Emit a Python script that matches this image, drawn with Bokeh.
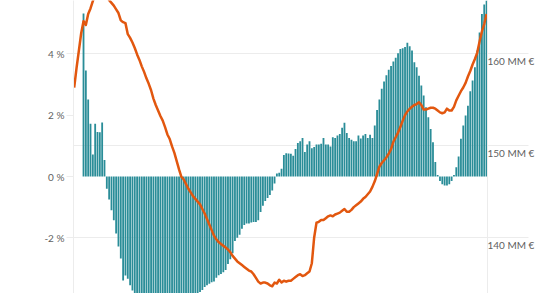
from bokeh.plotting import figure
from bokeh.models import Range1d, LinearAxis, FixedTicker, Grid, ColumnDataSource
from bokeh.embed import file_html
from bokeh.resources import INLINE

# ---- data ----
# yearly-change bars (%), one per period, index 0..173
bar_values = [
    5.32, 3.46, 2.51, 1.72, 0.72, 1.72, 1.45, 1.44, 1.76, 0.54,
    -0.40, -0.75, -1.10, -1.43, -1.86, -2.28, -2.67, -3.39, -3.23, -3.33,
    -3.55, -3.72, -3.90, -3.95, -4.00, -4.05, -4.10, -4.20, -4.25, -4.30,
    -4.35, -4.40, -4.40, -4.45, -4.50, -4.50, -4.50, -4.45, -4.45, -4.40,
    -4.35, -4.30, -4.25, -4.20, -4.15, -4.10, -4.00, -3.95, -3.90, -3.85,
    -3.77, -3.70, -3.60, -3.55, -3.50, -3.45, -3.42, -3.30, -3.22, -3.18,
    -3.12, -3.05, -2.85, -2.70, -2.50, -2.10, -2.00, -1.90, -1.70, -1.58,
    -1.53, -1.53, -1.50, -1.48, -1.48, -1.43, -1.16, -0.95, -0.80, -0.70,
    -0.60, -0.46, -0.23, 0.10, 0.12, 0.25, 0.70, 0.76, 0.75, 0.74,
    0.68, 0.90, 1.09, 1.15, 1.26, 0.80, 1.04, 1.15, 0.92, 0.96,
    1.04, 1.04, 1.07, 1.26, 1.04, 1.04, 0.98, 1.28, 1.26, 1.34,
    1.39, 1.59, 1.75, 1.42, 1.26, 1.20, 1.15, 1.15, 1.34, 1.24,
    1.34, 1.39, 1.26, 1.36, 1.26, 1.66, 2.17, 2.51, 2.86, 3.10,
    3.30, 3.48, 3.60, 3.75, 3.87, 4.02, 4.16, 4.18, 4.22, 4.36,
    4.25, 4.11, 3.73, 3.56, 3.29, 2.97, 2.64, 2.26, 1.93, 1.55,
    1.12, 0.47, 0.05, -0.15, -0.25, -0.29, -0.29, -0.25, -0.15, 0.05,
    0.30, 0.65, 1.23, 1.66, 1.99, 2.31, 2.78, 3.13, 3.56, 4.11,
    4.70, 5.30, 5.61, 6.00,
]
bar_index = list(range(len(bar_values)))

# level line (MM €), index -4..173
line_start = -4
line_values = [
    156.3, 158.4, 160.3, 162.2,
    163.5, 163.1, 164.3, 164.9, 165.7, 166.3, 166.8, 167.0, 167.0, 166.7,
    166.2, 165.8, 165.5, 165.2, 164.8, 164.4, 163.6, 163.4, 163.3, 162.1,
    161.7, 161.2, 160.6, 159.9, 159.3, 158.6, 158.0, 157.3, 156.7, 156.0,
    155.1, 154.4, 153.8, 153.2, 152.7, 152.0, 151.2, 150.7, 149.9, 149.2,
    148.3, 147.4, 146.6, 146.3, 145.8, 145.3, 144.9, 144.5, 144.2, 143.9,
    143.6, 143.1, 142.6, 142.0, 141.4, 140.8, 140.2, 139.8, 139.5, 139.3,
    139.1, 138.9, 138.7, 138.4, 138.0, 137.7, 137.4, 137.2, 137.0, 136.8,
    136.6, 136.4, 136.3, 136.0, 135.6, 135.2, 135.0, 135.1, 135.1, 135.0,
    134.8, 134.7, 135.1, 135.0, 135.4, 135.1, 135.3, 135.2, 135.3, 135.3,
    135.5, 135.7, 135.9, 136.0, 135.8, 135.9, 136.1, 136.3, 137.2, 140.0,
    141.6, 141.7, 141.9, 141.9, 142.1, 142.3, 142.4, 142.3, 142.5, 142.6,
    142.7, 142.9, 143.1, 142.8, 142.8, 143.0, 143.3, 143.5, 143.7, 143.9,
    144.2, 144.4, 144.7, 145.0, 145.5, 146.1, 146.9, 147.7, 148.1, 148.4,
    148.7, 149.1, 149.6, 150.4, 150.9, 151.4, 152.0, 152.7, 153.3, 153.7,
    154.0, 154.2, 154.4, 154.5, 154.7, 154.4, 153.9, 153.9, 154.0, 154.1,
    154.1, 154.0, 153.8, 153.6, 153.5, 153.6, 154.0, 153.8, 153.8, 154.2,
    154.9, 155.4, 155.9, 156.3, 156.8, 157.5, 158.1, 158.8, 159.4, 160.1,
    161.3, 162.4, 163.2, 164.3,
]
line_index = list(range(line_start, line_start + len(line_values)))

pct_ticks = [-2, 0, 2, 4]
pct_labels = ["-2 %", "0 %", "2 %", "4 %"]
mm_ticks = [140, 150, 160]
mm_labels = ["140 MM €", "150 MM €", "160 MM €"]

# ---- styling ----
BAR = "#2a8d98"
LINE = "#e2570f"
GRID = "#ececec"
TXT = "#5f5f5f"
FONT = "Lato"

X0, X1 = -4.3, 173.4

p = figure(
    width=560, height=293, output_backend="svg", toolbar_location=None,
    x_range=Range1d(X0, X1), y_range=Range1d(-3.815, 5.74),
    x_axis_location=None,
    min_border_left=73, min_border_right=73, min_border_top=0, min_border_bottom=0,
)
p.outline_line_color = None
p.background_fill_color = "white"
p.border_fill_color = "white"
p.xgrid.visible = False
p.ygrid.visible = False

p.extra_y_ranges = {"mm": Range1d(133.91, 165.76)}

# left axis (percent)
lax = p.yaxis[0]
lax.ticker = FixedTicker(ticks=pct_ticks)
lax.major_label_overrides = dict(zip(pct_ticks, pct_labels))
lax.axis_line_color = GRID
lax.major_tick_line_color = GRID
lax.major_tick_out = 7
lax.major_tick_in = 0
lax.minor_tick_line_color = None
lax.major_label_standoff = 2
lax.major_label_text_font = FONT
lax.major_label_text_font_size = "10px"
lax.major_label_text_color = TXT

# right axis (MM €): long outward ticks, each label sitting just under its tick
rax = LinearAxis(
    y_range_name="mm",
    ticker=FixedTicker(ticks=mm_ticks),
    major_label_overrides={t: "\n" + lab for t, lab in zip(mm_ticks, mm_labels)},
    axis_line_color=GRID,
    major_tick_line_color=GRID,
    major_tick_out=41, major_tick_in=0,
    minor_tick_line_color=None,
    major_label_standoff=-41,
    major_label_text_line_height=1.3,
    major_label_text_font=FONT,
    major_label_text_font_size="10px",
    major_label_text_color=TXT,
)
p.add_layout(rax, "right")

grid = Grid(dimension=1, ticker=rax.ticker, y_range_name="mm",
            grid_line_color=GRID, grid_line_width=1)
p.add_layout(grid)

bars = ColumnDataSource(dict(x=bar_index, top=bar_values))
p.vbar(x="x", top="top", bottom=0, width=0.78, source=bars,
       fill_color=BAR, line_color=None)

lsrc = ColumnDataSource(dict(x=line_index, y=line_values))
p.line(x="x", y="y", source=lsrc, y_range_name="mm",
       line_color=LINE, line_width=2.5, line_join="round")

open("out.html", "w").write(file_html(p, INLINE))
